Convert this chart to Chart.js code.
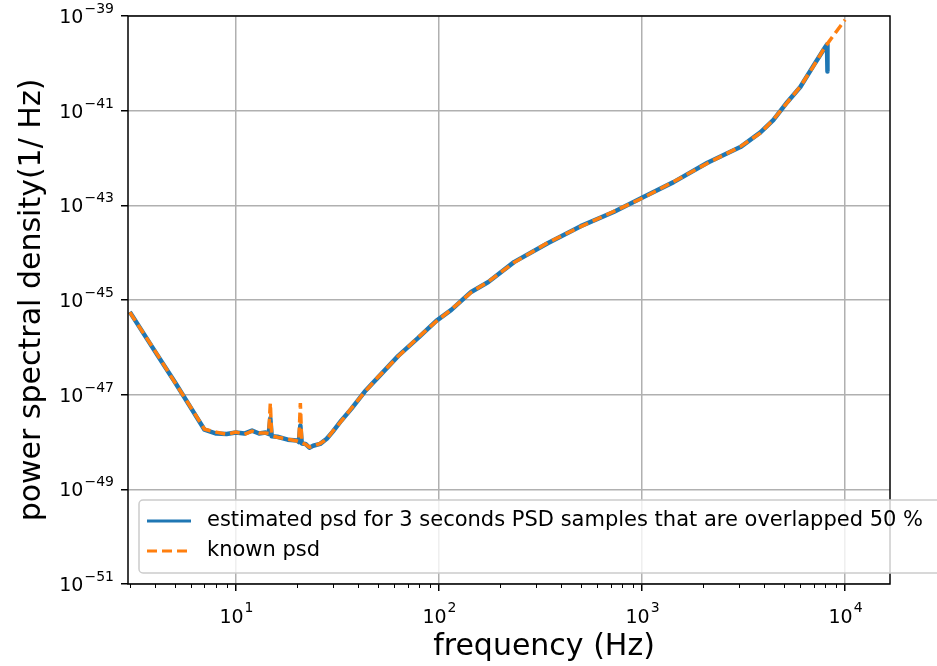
<!DOCTYPE html>
<html>
<head>
<meta charset="utf-8">
<script src="https://cdn.jsdelivr.net/npm/chart.js@4/dist/chart.umd.min.js"></script>
<style>
  html, body { margin: 0; padding: 0; background: #fff; }
  canvas { display: block; }
</style>
</head>
<body>
<canvas id="psdChart" width="937" height="666"></canvas>
<script>
// values (frequency in Hz, psd in 1/Hz)
const knownFreq = [3, 4, 5, 6, 7, 8, 9, 10, 11, 12, 13, 14, 14.5, 14.77, 15, 16, 18, 20, 20.4, 20.76,
    21.1, 22, 23, 24, 26, 28, 30, 33, 37, 43, 50, 63, 79, 97, 115, 144, 175, 234, 343, 499,
    725, 1000, 1430, 2100, 3050, 3830, 4430, 5190, 6020, 6970, 7980, 10000];
const knownPsd = [5.50e-46, 8.32e-47, 1.82e-47, 5.37e-48, 1.86e-48, 1.62e-48, 1.45e-48, 1.62e-48, 1.45e-48, 1.70e-48,
    1.55e-48, 1.55e-48, 1.51e-48, 6.61e-48, 1.35e-48, 1.26e-48, 1.15e-48, 1.05e-48, 1.02e-48, 6.61e-48,
    9.55e-49, 8.91e-49, 7.76e-49, 8.13e-49, 9.33e-49, 1.15e-48, 1.70e-48, 2.75e-48, 5.13e-48, 1.12e-47,
    2.34e-47, 6.46e-47, 1.62e-46, 3.55e-46, 6.31e-46, 1.45e-45, 2.45e-45, 6.17e-45, 1.62e-44, 3.55e-44,
    7.41e-44, 1.41e-43, 3.16e-43, 7.76e-43, 1.74e-42, 3.39e-42, 6.46e-42, 1.48e-41, 3.24e-41, 8.51e-41,
    2.24e-40, 8.32e-40];

const estFreq = [3, 4, 5, 6, 7, 8, 9, 10, 11, 12, 13, 14, 14.5, 14.77, 15, 16, 18, 20, 20.4, 20.76,
    21.1, 22, 23, 24, 26, 28, 30, 33, 37, 43, 50, 63, 79, 97, 115, 144, 175, 234, 343, 499,
    725, 1000, 1430, 2100, 3050, 3830, 4430, 5190, 6020, 6970, 7980, 8150, 8192];
const estPsd = [5.62e-46, 8.13e-47, 1.86e-47, 5.25e-48, 1.82e-48, 1.51e-48, 1.48e-48, 1.58e-48, 1.51e-48, 1.74e-48,
    1.51e-48, 1.58e-48, 1.48e-48, 3.16e-48, 1.32e-48, 1.29e-48, 1.12e-48, 1.07e-48, 1.00e-48, 2.24e-48,
    9.33e-49, 9.12e-49, 7.59e-49, 8.32e-49, 9.12e-49, 1.17e-48, 1.66e-48, 2.82e-48, 5.01e-48, 1.15e-47,
    2.29e-47, 6.61e-47, 1.58e-46, 3.63e-46, 6.17e-46, 1.48e-45, 2.40e-45, 6.31e-45, 1.58e-44, 3.63e-44,
    7.24e-44, 1.45e-43, 3.09e-43, 7.94e-43, 1.70e-42, 3.47e-42, 6.31e-42, 1.51e-41, 3.16e-41, 8.71e-41,
    2.19e-40, 2.51e-40, 6.76e-41];

const xTicks = [10, 100, 1000, 10000];
const yTicks = [1e-51, 1e-49, 1e-47, 1e-45, 1e-43, 1e-41, 1e-39];

const seriesLabels = ['estimated psd for 3 seconds PSD samples that are overlapped 50 %', 'known psd'];
const xTitle = 'frequency (Hz)';
const yTitle = 'power spectral density(1/ Hz)';

const FONT = "'DejaVu Sans', sans-serif";
const BLUE = '#1f77b4';
const ORANGE = '#ff7f0e';

function toPoints(xs, ys) {
    return xs.map((x, i) => ({ x: x, y: ys[i] }));
}

function expText(v) {
    const e = Math.round(Math.log10(v));
    return String(e).replace('-', '\u2212');
}

// frame, minor ticks, tick labels, x title and legend
const decorations = {
    id: 'decorations',
    afterDatasetsDraw(chart) {
        const ctx = chart.ctx;
        const a = chart.chartArea;
        ctx.save();
        ctx.strokeStyle = '#000';
        ctx.lineWidth = 1.5;
        ctx.strokeRect(a.left, a.top, a.right - a.left, a.bottom - a.top);
        ctx.restore();
    },
    afterDraw(chart) {
        const ctx = chart.ctx;
        const a = chart.chartArea;
        const xs = chart.scales.x;
        const ys = chart.scales.y;
        ctx.save();

        // minor ticks on the log x axis
        ctx.strokeStyle = '#000';
        ctx.lineWidth = 1;
        for (let d = 0; d <= 4; d++) {
            for (let m = 2; m <= 9; m++) {
                const v = m * Math.pow(10, d);
                if (v < xs.min || v > xs.max) continue;
                const px = Math.round(xs.getPixelForValue(v)) + 0.5;
                ctx.beginPath();
                ctx.moveTo(px, a.bottom);
                ctx.lineTo(px, a.bottom + 4);
                ctx.stroke();
            }
        }

        // tick labels as 10^n
        ctx.fillStyle = '#000';
        ctx.textBaseline = 'alphabetic';
        xs.ticks.forEach(t => {
            const px = xs.getPixelForValue(t.value);
            const e = expText(t.value);
            ctx.font = '19px ' + FONT;
            const w1 = ctx.measureText('10').width;
            ctx.font = '14px ' + FONT;
            const w2 = ctx.measureText(e).width;
            const x0 = px - (w1 + w2) / 2;
            ctx.font = '19px ' + FONT;
            ctx.textAlign = 'left';
            ctx.fillText('10', x0, 623);
            ctx.font = '14px ' + FONT;
            ctx.fillText(e, x0 + w1 + 1, 612);
        });
        ys.ticks.forEach(t => {
            const py = ys.getPixelForValue(t.value);
            const e = expText(t.value);
            ctx.font = '14px ' + FONT;
            ctx.textAlign = 'right';
            const w2 = ctx.measureText(e).width;
            ctx.fillText(e, 114, py - 3);
            ctx.font = '19px ' + FONT;
            ctx.fillText('10', 114 - w2 - 1, py + 7);
        });

        // x axis title
        ctx.font = '30px ' + FONT;
        ctx.textAlign = 'center';
        ctx.fillText(xTitle, 544, 655);

        // legend
        const lx = 139, ly = 500, lw = 810, lh = 73;
        ctx.beginPath();
        ctx.roundRect(lx, ly, lw, lh, 4);
        ctx.fillStyle = 'rgba(255,255,255,0.8)';
        ctx.fill();
        ctx.strokeStyle = '#cccccc';
        ctx.lineWidth = 1.5;
        ctx.stroke();

        const rows = [
            { y: 521, color: BLUE, dash: [] },
            { y: 551, color: ORANGE, dash: [10, 5] }
        ];
        rows.forEach((r, i) => {
            ctx.beginPath();
            ctx.setLineDash(r.dash);
            ctx.strokeStyle = r.color;
            ctx.lineWidth = 3;
            ctx.moveTo(147, r.y);
            ctx.lineTo(191, r.y);
            ctx.stroke();
            ctx.setLineDash([]);
            ctx.fillStyle = '#000';
            ctx.font = '21px ' + FONT;
            ctx.textAlign = 'left';
            ctx.textBaseline = 'middle';
            ctx.fillText(seriesLabels[i], 207, r.y);
        });
        ctx.restore();
    }
};

const ctx = document.getElementById('psdChart').getContext('2d');
new Chart(ctx, {
    type: 'line',
    data: {
        datasets: [{
            label: seriesLabels[0],
            data: toPoints(estFreq, estPsd),
            borderColor: BLUE,
            borderWidth: 4.5,
            borderJoinStyle: 'round',
            pointRadius: 0,
            tension: 0,
            fill: false,
            order: 2
        }, {
            label: seriesLabels[1],
            data: toPoints(knownFreq, knownPsd),
            borderColor: ORANGE,
            borderWidth: 3.5,
            borderDash: [10, 5],
            pointRadius: 0,
            tension: 0,
            fill: false,
            order: 1
        }]
    },
    options: {
        responsive: false,
        animation: false,
        devicePixelRatio: 1,
        layout: { padding: { top: 16, right: 47, left: 0, bottom: 0 } },
        plugins: {
            legend: { display: false },
            tooltip: { enabled: false }
        },
        scales: {
            x: {
                type: 'logarithmic',
                min: 2.94,
                max: 16650,
                afterBuildTicks: scale => { scale.ticks = xTicks.map(v => ({ value: v })); },
                afterFit: scale => { scale.height = 82; },
                ticks: { display: false },
                border: { display: false },
                grid: {
                    color: '#b0b0b0',
                    lineWidth: 1.5,
                    drawTicks: true,
                    tickLength: 7,
                    tickColor: '#000',
                    tickWidth: 1.5
                }
            },
            y: {
                type: 'logarithmic',
                min: 1e-51,
                max: 1e-39,
                afterBuildTicks: scale => { scale.ticks = yTicks.map(v => ({ value: v })); },
                afterFit: scale => { scale.width = 128; },
                ticks: { display: false },
                border: { display: false },
                grid: {
                    color: '#b0b0b0',
                    lineWidth: 1.5,
                    drawTicks: true,
                    tickLength: 7,
                    tickColor: '#000',
                    tickWidth: 1.5
                },
                title: {
                    display: true,
                    text: yTitle,
                    color: '#000',
                    font: { family: FONT, size: 30 },
                    padding: { top: 14, bottom: 0 }
                }
            }
        }
    },
    plugins: [decorations]
});
</script>
</body>
</html>
